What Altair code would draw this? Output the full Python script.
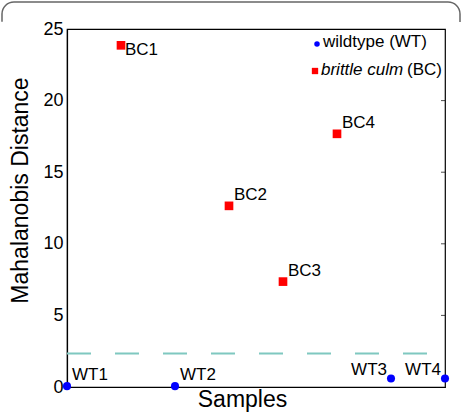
import altair as alt
import pandas as pd

samples = ["WT1", "BC1", "WT2", "BC2", "BC3", "BC4", "WT3", "WT4"]
groups = ["WT", "BC", "WT", "BC", "BC", "BC", "WT", "WT"]
distances = [0.06, 23.86, 0.06, 12.65, 7.36, 17.68, 0.59, 0.59]
threshold = 2.34
y_ticks = [0, 5, 10, 15, 20, 25]

SANS = "Liberation Sans"
FS = 17

df = pd.DataFrame({
    "sample": samples,
    "group": groups,
    "distance": distances,
    "pos": list(range(1, len(samples) + 1)),
})

W, H = 378, 358

xs = alt.Scale(domain=[1, len(samples)], nice=False, zero=False)
ys = alt.Scale(domain=[0, 25], nice=False)

x_enc = alt.X("pos:Q", scale=xs,
              axis=alt.Axis(title="Samples", labels=False, ticks=False, grid=False,
                            domainColor="black", domainWidth=1.2,
                            titleFont=SANS, titleFontSize=23, titleFontWeight="normal",
                            titleColor="black", titlePadding=1, titleX=175))
y_enc = alt.Y("distance:Q", scale=ys,
              axis=alt.Axis(title="Mahalanobis Distance", values=y_ticks, grid=False,
                            ticks=False, labelFont=SANS, labelFontSize=FS + 1,
                            labelColor="black", labelPadding=4,
                            domainColor="black", domainWidth=1.2,
                            titleFont=SANS, titleFontSize=23, titleFontWeight="normal",
                            titleColor="black", titlePadding=10, titleY=161))

base = alt.Chart(df)

wt_pts = base.transform_filter(alt.datum.group == "WT").mark_point(
    shape="circle", filled=True, color="#0000ff", size=65, opacity=1
).encode(x=x_enc, y=y_enc)

bc_pts = base.transform_filter(alt.datum.group == "BC").mark_point(
    shape="square", filled=True, color="#ff0000", size=75, opacity=1
).encode(x=alt.X("pos:Q", scale=xs), y=alt.Y("distance:Q", scale=ys))

thr = alt.Chart(pd.DataFrame({"y": [threshold], "x1": [1], "x2": [len(samples)]})).mark_rule(
    color="#7fc8c0", strokeWidth=2, strokeDash=[24, 24]
).encode(x=alt.X("x1:Q", scale=xs), x2="x2:Q", y=alt.Y("y:Q", scale=ys))

# inward tick marks on the right edge of the box
right_ticks = alt.Chart(pd.DataFrame({"v": y_ticks[1:-1]})).mark_tick(
    color="black", thickness=1, size=4
).encode(y=alt.Y("v:Q", scale=ys), x=alt.value(W - 2))

txt_kw = dict(font=SANS, fontSize=FS, color="black", baseline="alphabetic")

lab_bc1 = base.transform_filter(alt.datum.sample == "BC1").mark_text(
    align="left", dx=4, dy=10, **txt_kw).encode(x="pos:Q", y="distance:Q", text="sample:N")
lab_ar = base.transform_filter(
    alt.FieldOneOfPredicate(field="sample", oneOf=["WT1", "WT2", "BC2", "BC3", "BC4"])
).mark_text(align="left", dx=5, dy=-6, **txt_kw).encode(
    x="pos:Q", y="distance:Q", text="sample:N")
lab_al = base.transform_filter(
    alt.FieldOneOfPredicate(field="sample", oneOf=["WT3", "WT4"])
).mark_text(align="right", dx=-4, dy=-4, **txt_kw).encode(
    x="pos:Q", y="distance:Q", text="sample:N")

# legend (drawn inside the plot, top right)
leg = alt.Chart(pd.DataFrame({"k": [0]}))
leg_c = leg.mark_point(shape="circle", filled=True, color="#0000ff", size=30, opacity=1).encode(
    x=alt.value(250), y=alt.value(15))
leg_s = leg.mark_point(shape="square", filled=True, color="#ff0000", size=40, opacity=1).encode(
    x=alt.value(248), y=alt.value(42))
leg_t1 = leg.mark_text(font=SANS, fontSize=FS, color="black", align="left", baseline="middle").encode(
    x=alt.value(256), y=alt.value(13), text=alt.value("wildtype (WT)"))
leg_t2 = leg.mark_text(font=SANS, fontSize=FS, color="black", align="left", baseline="middle",
                       fontStyle="italic").encode(
    x=alt.value(254), y=alt.value(41), text=alt.value("brittle culm"))
leg_t3 = leg.mark_text(font=SANS, fontSize=FS, color="black", align="left", baseline="middle").encode(
    x=alt.value(340), y=alt.value(41), text=alt.value("(BC)"))

# outer rounded frame: only its top part (corners + short sides) is visible
FW, FH, R = 458, 440, 12
arc = 3.14159 * R / 2
side_vis = 8
per = 2 * (FW - 2 * R) + 2 * (FH - 2 * R) + 4 * arc
a = side_vis + arc
vis = a + (FW - 2 * R) + arc + side_vis
frame = leg.mark_rect(fillOpacity=0, stroke="#666666", strokeWidth=1.5, cornerRadius=R,
                      strokeDash=[vis, per - vis], strokeDashOffset=a).encode(
    x=alt.value(-65), x2=alt.value(-65 + FW), y=alt.value(-27), y2=alt.value(-27 + FH))

chart = alt.layer(
    wt_pts, frame, thr, right_ticks, bc_pts, lab_bc1, lab_ar, lab_al,
    leg_c, leg_s, leg_t1, leg_t2, leg_t3
).properties(
    width=W, height=H,
    autosize=alt.AutoSizeParams(type="none"),
    padding={"left": 67, "top": 29, "right": 463 - 67 - W, "bottom": 414 - 29 - H},
    background="white",
).configure_view(stroke="black", strokeWidth=1.2)

chart.save("out.html", embed_options={"renderer": "svg", "actions": False})
